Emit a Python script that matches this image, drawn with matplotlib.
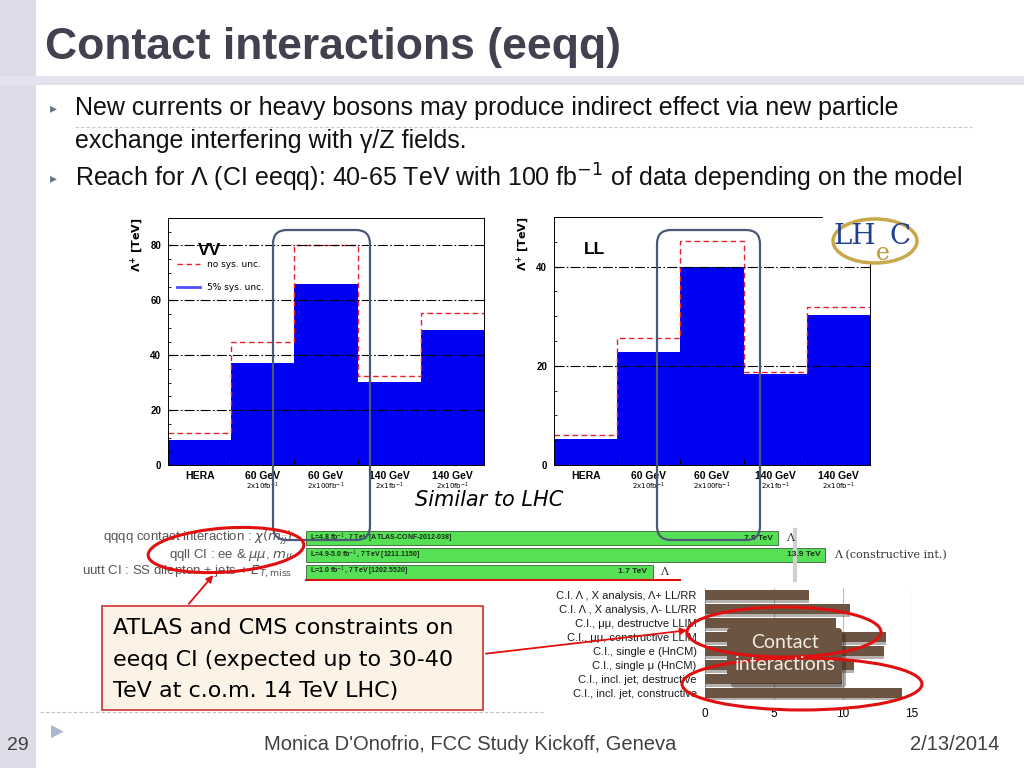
import numpy as np
import matplotlib
matplotlib.use('Agg')
import matplotlib.pyplot as plt
from matplotlib.patches import Rectangle, Ellipse, FancyBboxPatch
from matplotlib.lines import Line2D
from matplotlib.ticker import MultipleLocator, NullLocator
from matplotlib.transforms import blended_transform_factory

W, H = 1024, 768

# LHeC reach histograms (Lambda+ in TeV)
bin_names = ['HERA', '60 GeV', '60 GeV', '140 GeV', '140 GeV']
bin_lumi = ['', '2x10fb$^{-1}$', '2x100fb$^{-1}$', '2x1fb$^{-1}$', '2x10fb$^{-1}$']
vv_sys = [9.2, 37.3, 66.0, 30.2, 49.2]
vv_nosys = [11.5, 45.0, 80.0, 32.4, 55.3]
ll_sys = [5.2, 22.7, 40.0, 18.3, 30.3]
ll_nosys = [6.0, 25.7, 45.2, 18.8, 31.9]

# ATLAS summary rows
atlas_names = [r'qqqq contact interaction : $\chi(m_{jj})$',
               r'qqll CI : ee & $\mu\mu$, $m_{ll}$',
               r'uutt CI : SS dilepton + jets + $E_{T,\mathrm{miss}}$']
atlas_refs = [r'L=4.8 fb$^{-1}$, 7 TeV [ATLAS-CONF-2012-038]',
              r'L=4.9-5.0 fb$^{-1}$, 7 TeV [1211.1150]',
              r'L=1.0 fb$^{-1}$, 7 TeV [1202.5520]']
atlas_limits = [7.8, 13.9, 1.7]
atlas_notes = ['', ' (constructive int.)', '']

# CMS summary rows
cms_names = ['C.I. Λ , X analysis, Λ+ LL/RR', 'C.I. Λ , X analysis, Λ- LL/RR',
             'C.I., μμ, destructve LLIM', 'C.I., μμ, constructive LLIM',
             'C.I., single e (HnCM)', 'C.I., single μ (HnCM)',
             'C.I., incl. jet, destructive', 'C.I., incl. jet, constructive']
cms_limits = [7.5, 10.5, 9.5, 13.1, 13.0, 10.8, 9.9, 14.3]

bullets = ['New currents or heavy bosons may produce indirect effect via new particle',
           'exchange interfering with γ/Z fields.',
           r'Reach for Λ (CI eeqq): 40-65 TeV with 100 fb$^{-1}$ of data depending on the model']

fig = plt.figure(figsize=(W / 100, H / 100), dpi=100)


def place(x0, y0, x1, y1, **kw):
    return fig.add_axes([x0 / W, 1 - y1 / H, (x1 - x0) / W, (y1 - y0) / H], **kw)


def canvas(z):
    a = fig.add_axes([0, 0, 1, 1], zorder=z)
    a.set_xlim(0, W)
    a.set_ylim(H, 0)
    a.axis('off')
    return a


bg = canvas(0)
# slide decoration
bg.add_patch(Rectangle((0, 0), 36, H, color='#dcdce8', lw=0))
bg.add_patch(Rectangle((0, 76), W, 9, color='#e2e3ec', lw=0))
bg.text(45, 47, 'Contact interactions (eeqq)', fontsize=32, fontweight='bold',
        color='#41414f', va='center', family='Liberation Sans')
for y in [108, 178]:
    bg.text(50, y, '▸', fontsize=10, color='#6a7488', va='center')
for y, t in zip([108, 141, 178], bullets):
    bg.text(75, y, t, fontsize=18, color='#111111', va='center', family='Liberation Sans')
bg.plot([75, 972], [127, 127], color='#c8c8c8', lw=0.8, ls=(0, (3, 2)))
bg.plot([40, 545], [712, 712], color='#b8c0d0', lw=0.8, ls=(0, (3, 2)))

bg.text(18, 745, '29', fontsize=14, color='#404040', va='center', ha='center', family='Liberation Sans')
bg.text(470, 745, "Monica D'Onofrio, FCC Study Kickoff, Geneva", fontsize=14.5, color='#404040',
        va='center', ha='center', family='Liberation Sans')
bg.text(955, 745, '2/13/2014', fontsize=14.5, color='#404040', va='center', ha='center',
        family='Liberation Sans')
bg.text(57, 732, '▶', fontsize=12, color='#a8b8cc', va='center', ha='center')

bg.text(415, 500, 'Similar to LHC', fontsize=15, style='italic', va='center', color='black')


def hist_panel(ax, sys_vals, nosys_vals, ymax, name, legend=False):
    edges = np.arange(len(sys_vals) + 1)
    ax.bar(edges[:-1], sys_vals, width=1, align='edge', color='#0000f2', lw=0, zorder=1)
    ax.stairs(nosys_vals, edges, baseline=None, color='#e8202a', ls=(0, (4, 2.5)), lw=1, zorder=2)
    ax.set_xlim(0, len(sys_vals))
    ax.set_ylim(0, ymax)
    ax.yaxis.set_major_locator(MultipleLocator(20))
    ax.yaxis.set_minor_locator(MultipleLocator(5))
    ax.set_xticks(edges[1:-1], minor=True)
    ax.set_xticks(edges[:-1] + 0.5, bin_names)
    ax.tick_params(axis='x', which='major', length=0, pad=4, labelsize=7.5)
    ax.tick_params(axis='x', which='minor', direction='in', length=4)
    ax.tick_params(axis='y', which='both', direction='in', labelsize=7, pad=5)
    ax.tick_params(axis='y', which='minor', length=2.5)
    for lab in ax.get_xticklabels() + ax.get_yticklabels():
        lab.set_fontweight('bold')
        lab.set_family('Liberation Sans')
    tr = ax.get_xaxis_transform()
    for c, t in zip(edges[:-1] + 0.5, bin_lumi):
        ax.text(c, -0.088, t, transform=tr, ha='center', va='center', fontsize=5)
    ax.grid(axis='y', which='major', color='black', ls=(0, (9, 2, 1.5, 2)), lw=0.8)
    ax.set_axisbelow(False)
    for s in ax.spines.values():
        s.set_linewidth(0.7)
    ax.set_ylabel(r'$\mathbf{\Lambda^{+}}$ [TeV]', loc='top', fontweight='bold', fontsize=8,
                  labelpad=4)
    ax.text(0.095, 0.87, name, transform=ax.transAxes, fontsize=12.5, fontweight='bold',
            va='center', family='Liberation Sans')
    if legend:
        handles = [Line2D([], [], color='#e8202a', ls=(0, (4, 2.5)), lw=1),
                   Line2D([], [], color='#5050ff', lw=2)]
        ax.legend(handles, ['no sys. unc.', '5% sys. unc.'], loc='upper left',
                  bbox_to_anchor=(0.03, 0.83), frameon=False, fontsize=6.5,
                  handlelength=2.5, labelspacing=1.6, borderaxespad=0, borderpad=0)


ax_vv = place(168, 218, 484, 465, zorder=1)
hist_panel(ax_vv, vv_sys, vv_nosys, 90, 'VV', legend=True)
ax_ll = place(554, 217, 870, 465, zorder=1)
hist_panel(ax_ll, ll_sys, ll_nosys, 50, 'LL')

# ATLAS summary bars (log scale)
ax_at = place(306, 530, 795, 580, zorder=1)
rows = np.arange(len(atlas_limits))
ax_at.barh(rows, atlas_limits, left=10 ** -1.584, height=0.85, color='#55e055',
           edgecolor='#224422', lw=0.5, clip_on=False)
ax_at.set_xscale('log')
ax_at.set_xlim(10 ** -1.584, 10 ** 0.984)
ax_at.set_ylim(len(rows) - 0.5, -0.5)
ax_at.xaxis.set_major_locator(NullLocator())
ax_at.xaxis.set_minor_locator(NullLocator())
ax_at.set_yticks([])
ax_at.tick_params(which='both', bottom=False, labelbottom=False, left=False)
for k in ['top', 'bottom', 'left']:
    ax_at.spines[k].set_visible(False)
ax_at.spines['right'].set_color('#d0d0d0')
ax_at.spines['right'].set_linewidth(3)
btr = blended_transform_factory(ax_at.transAxes, ax_at.transData)
for i, (ref, lim, note, nm) in enumerate(zip(atlas_refs, atlas_limits, atlas_notes, atlas_names)):
    ax_at.text(0.008, i, ref, transform=btr, fontsize=5, fontweight='bold', va='center',
               color='#1a2a1a', family='Liberation Sans')
    ax_at.annotate(f'{lim} TeV', (lim, i), xytext=(-3, 0), textcoords='offset points',
                   ha='right', va='center', fontsize=6, fontweight='bold', color='#1a2a1a',
                   family='Liberation Sans', annotation_clip=False)
    ax_at.annotate('Λ' + note, (lim, i), xytext=(6, 0), textcoords='offset points',
                   ha='left', va='center', fontsize=8, color='#333333', family='DejaVu Serif',
                   annotation_clip=False)
    ax_at.text(-0.028, i, nm, transform=btr, fontsize=9.5, ha='right', va='center',
               color='#555555', family='Liberation Sans')

# CMS summary bars
ax_cms = place(705, 588, 912, 700, zorder=1)
crow = np.arange(len(cms_limits))
ax_cms.barh(crow + 0.12, cms_limits, height=0.95, color='#2a2018', alpha=0.35, lw=0)
ax_cms.barh(crow, cms_limits, height=0.75, color='#6c5442', lw=0)
ax_cms.set_xlim(0, 15)
ax_cms.set_ylim(len(crow) - 0.5, -0.5)
ax_cms.set_yticks(crow, cms_names)
ax_cms.set_xticks([0, 5, 10, 15])
ax_cms.tick_params(axis='y', length=0, pad=6, labelsize=8, labelcolor='#1a1a1a')
ax_cms.tick_params(axis='x', length=0, pad=6, labelsize=8.5)
for lab in ax_cms.get_yticklabels() + ax_cms.get_xticklabels():
    lab.set_family('Liberation Sans')
ax_cms.grid(axis='x', color='#c0c0c0', lw=0.8)
ax_cms.set_axisbelow(True)
for s in ax_cms.spines.values():
    s.set_visible(False)

# overlays: boxes, ellipses, arrows, logo
ov = canvas(10)
for x0, x1 in [(273, 370), (657, 760)]:
    ov.add_patch(FancyBboxPatch((x0, 230), x1 - x0, 310, boxstyle='round,pad=0,rounding_size=14',
                                fill=False, ec='#4b5878', lw=1.6))

ov.add_patch(Rectangle((823, 205), 100, 58, color='white', lw=0))
ov.add_patch(Ellipse((875, 241), 84, 44, fill=False, ec='#c9a84a', lw=2.5))
ov.text(855, 237, 'LH', fontsize=20, color='#1f3f8f', family='DejaVu Serif', ha='center', va='center')
ov.text(883, 254, 'e', fontsize=17, color='#b89a3a', family='DejaVu Serif', ha='center', va='center')
ov.text(900, 236, 'C', fontsize=20, color='#1f3f8f', family='DejaVu Serif', ha='center', va='center')

ov.plot([306, 680], [580, 580], color='#e01010', lw=1.5)
ov.add_patch(Ellipse((226, 550), 156, 44, angle=-4, fill=False, ec='#e01010', lw=2.2))

ov.add_patch(Rectangle((102, 606), 381, 104, fc='#fcf3e6', ec='#d04040', lw=1.3))
for y, t in zip([628, 660, 691], ['ATLAS and CMS constraints on', 'eeqq CI (expected up to 30-40',
                                   'TeV at c.o.m. 14 TeV LHC)']):
    ov.text(113, y, t, fontsize=16, va='center', color='black')
ov.annotate('', xy=(215, 573), xytext=(187, 606),
            arrowprops=dict(arrowstyle='-|>', color='#e01010', lw=1.3, mutation_scale=10))
ov.annotate('', xy=(690, 630), xytext=(483, 654),
            arrowprops=dict(arrowstyle='-|>', color='#e01010', lw=1.3, mutation_scale=10))

ov.add_patch(FancyBboxPatch((731, 633), 115, 55, boxstyle='round,pad=0,rounding_size=4',
                            fc='#201810', alpha=0.35, lw=0))
ov.add_patch(FancyBboxPatch((727, 628), 115, 55, boxstyle='round,pad=0,rounding_size=4',
                            fc='#6c5442', lw=0))
ov.text(785, 643, 'Contact', fontsize=14, color='#f3ece2', ha='center', va='center', family='Lato')
ov.text(785, 665, 'interactions', fontsize=14, color='#f3ece2', ha='center', va='center', family='Lato')
ov.add_patch(Ellipse((784, 632), 194, 50, fill=False, ec='#e01010', lw=2.2))
ov.add_patch(Ellipse((802, 684), 240, 52, fill=False, ec='#e01010', lw=2.2))

fig.savefig('out.png', dpi=100)
